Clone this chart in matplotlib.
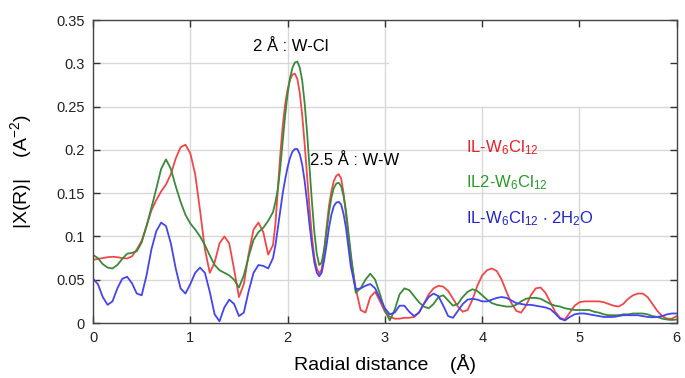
import numpy as np
import matplotlib
matplotlib.use('Agg')
from matplotlib import pyplot as plt

plt.rcParams['font.family'] = ['Liberation Sans', 'DejaVu Sans']
plt.rcParams['mathtext.default'] = 'regular'

# radial distance (Å): 0.05 steps, finer (0.025) across the main peaks
r = np.concatenate([np.arange(0, 1.849, 0.05),
                    np.arange(1.85, 2.601, 0.025),
                    np.arange(2.65, 6.001, 0.05)])

il_w6cl12 = [0.073, 0.074, 0.075, 0.076, 0.0765, 0.076, 0.075, 0.0745, 0.077, 0.085,
             0.095, 0.112, 0.13, 0.142, 0.152, 0.16, 0.172, 0.19, 0.203, 0.206,
             0.196, 0.172, 0.13, 0.085, 0.058, 0.07, 0.092, 0.100, 0.092, 0.062,
             0.030, 0.045, 0.08, 0.108, 0.116, 0.105, 0.079,
             0.09, 0.115, 0.155, 0.195, 0.228, 0.253, 0.27, 0.281, 0.287, 0.288,
             0.282, 0.266, 0.24, 0.207, 0.17, 0.133, 0.10, 0.076, 0.063, 0.057,
             0.062, 0.082, 0.11, 0.135, 0.152, 0.164, 0.17, 0.172, 0.167, 0.15,
             0.125,
             0.075, 0.04, 0.015, 0.012, 0.03, 0.036, 0.025,
             0.013, 0.007, 0.005, 0.005, 0.006, 0.006, 0.007, 0.012, 0.022, 0.033,
             0.04, 0.043, 0.042, 0.037, 0.028, 0.019, 0.013, 0.015, 0.027, 0.043,
             0.055, 0.061, 0.063, 0.06, 0.05, 0.036, 0.023, 0.014, 0.012, 0.02,
             0.032, 0.04, 0.041, 0.035, 0.024, 0.013, 0.006, 0.004, 0.012, 0.02,
             0.024, 0.025, 0.025, 0.025, 0.025, 0.024, 0.022, 0.02, 0.019, 0.022,
             0.028, 0.032, 0.034, 0.034, 0.03, 0.022, 0.014, 0.008, 0.005, 0.005,
             0.008]

il2_w6cl12 = [0.0785, 0.075, 0.068, 0.064, 0.063, 0.067, 0.074, 0.08, 0.081, 0.083,
              0.093, 0.112, 0.133, 0.155, 0.178, 0.189, 0.178, 0.158, 0.14, 0.125,
              0.115, 0.108, 0.10, 0.09, 0.078, 0.067, 0.061, 0.058, 0.055, 0.05,
              0.041, 0.055, 0.077, 0.096, 0.105, 0.11, 0.118,
              0.128, 0.14, 0.155, 0.18, 0.21, 0.24, 0.265, 0.283, 0.295, 0.301,
              0.302, 0.295, 0.28, 0.254, 0.22, 0.18, 0.14, 0.105, 0.08, 0.067,
              0.07, 0.085, 0.105, 0.127, 0.145, 0.156, 0.161, 0.162, 0.158, 0.147,
              0.13,
              0.08, 0.035, 0.04, 0.05, 0.057, 0.05, 0.033,
              0.015, 0.003, 0.015, 0.033, 0.04, 0.038, 0.031, 0.024, 0.019, 0.017,
              0.022, 0.03, 0.032, 0.026, 0.02, 0.022, 0.03, 0.036, 0.039, 0.037,
              0.032, 0.027, 0.023, 0.021, 0.02, 0.019, 0.019, 0.021, 0.025, 0.028,
              0.029, 0.029, 0.028, 0.025, 0.022, 0.02, 0.019, 0.017, 0.016, 0.015,
              0.015, 0.015, 0.015, 0.013, 0.012, 0.01, 0.009, 0.009, 0.009, 0.01,
              0.01, 0.011, 0.011, 0.011, 0.01, 0.008, 0.007, 0.005, 0.004, 0.0035,
              0.004]

il_w6cl12_2h2o = [0.051, 0.045, 0.03, 0.021, 0.025, 0.04, 0.051, 0.0535, 0.046, 0.034,
                  0.032, 0.055, 0.085, 0.106, 0.116, 0.112, 0.092, 0.063, 0.04, 0.034,
                  0.045, 0.058, 0.064, 0.058, 0.036, 0.01, 0.002, 0.018, 0.027, 0.022,
                  0.008, 0.012, 0.037, 0.058, 0.067, 0.066, 0.063,
                  0.075, 0.09, 0.11, 0.13, 0.15, 0.166, 0.18, 0.191, 0.198, 0.201,
                  0.201, 0.195, 0.183, 0.164, 0.14, 0.114, 0.09, 0.07, 0.058, 0.054,
                  0.058, 0.072, 0.09, 0.11, 0.125, 0.135, 0.139, 0.14, 0.137, 0.126,
                  0.11,
                  0.065, 0.039, 0.04, 0.043, 0.045, 0.04, 0.028,
                  0.017, 0.01, 0.012, 0.02, 0.02, 0.013, 0.008, 0.012, 0.022, 0.03,
                  0.034, 0.031, 0.02, 0.008, 0.006, 0.014, 0.022, 0.027, 0.028, 0.027,
                  0.025, 0.025, 0.027, 0.029, 0.03, 0.029, 0.026, 0.023, 0.022, 0.021,
                  0.021, 0.02, 0.019, 0.018, 0.016, 0.011, 0.005, 0.003, 0.007, 0.01,
                  0.011, 0.011, 0.01, 0.009, 0.008, 0.007, 0.007, 0.007, 0.008, 0.009,
                  0.009, 0.009, 0.009, 0.008, 0.007, 0.0066, 0.007, 0.008, 0.01, 0.011,
                  0.011]

series = [il_w6cl12, il2_w6cl12, il_w6cl12_2h2o]
line_colors = ['#f04848', '#3a8a3a', '#4444f0']
labels = [r'IL-W$_{6}$Cl$_{12}$', r'IL2-W$_{6}$Cl$_{12}$',
          r'IL-W$_{6}$Cl$_{12}$ $\cdot$ 2H$_{2}$O']
label_colors = ['#e8202a', '#2a9a2a', '#2222cc']
label_y = [0.202, 0.162, 0.12]

xticks = [0, 1, 2, 3, 4, 5, 6]
yticks = [0, 0.05, 0.1, 0.15, 0.2, 0.25, 0.3, 0.35]
ytick_labels = ['0', '0.05', '0.1', '0.15', '0.2', '0.25', '0.3', '0.35']

fig = plt.figure(figsize=(6.85, 3.78), dpi=100)
ax = fig.add_axes([0.1358, 0.1455, 0.8522, 0.8015])

# grid (top-right corner left blank as in the original)
for t in xticks[1:-1]:
    ax.axvline(t, color='#d8d8d8', lw=1, zorder=0,
               ymax=1 if t <= 3 else 0.25 / 0.35)
for t in yticks[1:-1]:
    ax.axhline(t, color='#d8d8d8', lw=1, zorder=0,
               xmax=1 if t <= 0.25 else 3.03 / 6)

for y, c in zip(series, line_colors):
    ax.plot(r, y, color=c, lw=1.3, solid_joinstyle='round')

for lab, c, yy in zip(labels, label_colors, label_y):
    ax.text(3.83, yy, lab, color=c, fontsize=12, va='center', ha='left')

ax.text(1.64, 0.319, '2 Å : W-Cl', fontsize=12, va='center', ha='left')
ax.text(2.23, 0.188, '2.5 Å : W-W', fontsize=12, va='center', ha='left')

ax.set_xlim(0, 6)
ax.set_ylim(0, 0.35)
ax.set_xticks(xticks)
ax.set_yticks(yticks)
ax.set_yticklabels(ytick_labels)
ax.tick_params(direction='in', top=True, right=True, length=5, width=1,
               labelsize=10.5, colors='#333333', labelcolor='#222222', pad=6)
for s in ax.spines.values():
    s.set_color('#444444')
    s.set_linewidth(1)

ax.set_xlabel('Radial distance    (Å)', fontsize=14, labelpad=6)
ax.set_ylabel(r'|X(R)|    (A$^{-2}$)', fontsize=14)
ax.yaxis.set_label_coords(-0.101, 0.5)

fig.savefig('out.png', dpi=100)
